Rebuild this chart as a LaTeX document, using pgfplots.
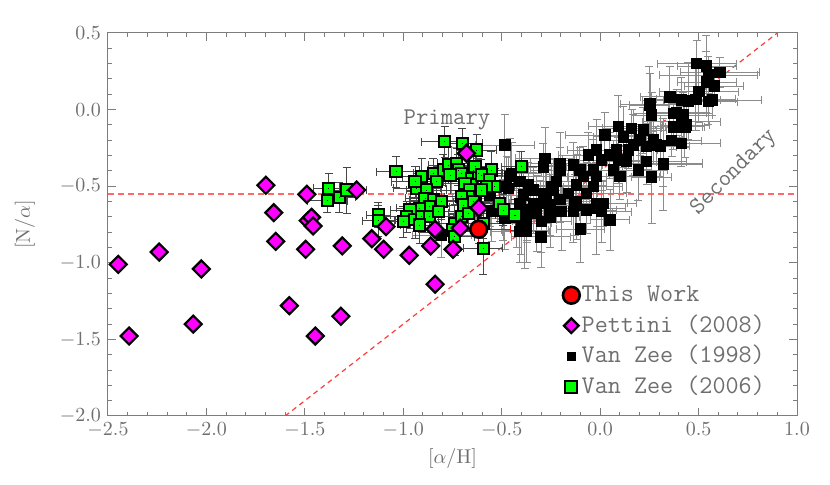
\documentclass[border=0pt]{standalone}
\usepackage{pgfplots}
\pgfplotsset{compat=1.18}
\usepackage{pgfplotstable}
\definecolor{axgray}{RGB}{125,125,125}
\definecolor{txtgray}{RGB}{110,110,110}
\definecolor{errgray}{RGB}{140,140,140}
\definecolor{hatch}{RGB}{70,70,70}
\definecolor{mag}{RGB}{255,0,255}
\definecolor{grn}{RGB}{0,255,0}
\definecolor{lnred}{RGB}{255,60,60}
\definecolor{hred}{RGB}{255,105,105}

\pgfplotstableread{
x y ex ey
0.49 0.30 0.2 0.15
0.54 0.285 0.15 0.2
0.549 0.226 0.25 0.12
0.608 0.243 0.2 0.1
0.54 0.18 0.15 0.2
0.579 0.154 0.15 0.12
0.501 0.117 0.2 0.2
0.549 0.052 0.15 0.15
0.57 0.063 0.25 0.1
0.354 0.084 0.15 0.2
0.413 0.063 0.2 0.15
0.447 0.056 0.12 0.25
0.253 0.037 0.15 0.2
0.261 -0.035 0.1 0.15
0.371 -0.024 0.2 0.12
0.422 -0.035 0.15 0.15
0.413 -0.079 0.2 0.1
0.371 -0.112 0.15 0.15
0.43 -0.112 0.1 0.2
0.413 -0.22 0.2 0.15
0.363 -0.203 0.15 0.1
0.32 -0.35 0.2 0.15
0.261 -0.44 0.1 0.3
0.092 -0.108 0.15 0.2
0.024 -0.166 0.2 0.15
0.16 -0.122 0.15 0.12
0.219 -0.133 0.12 0.15
0.117 -0.177 0.15 0.2
0.202 -0.198 0.2 0.1
0.27 -0.198 0.15 0.15
0.287 -0.231 0.12 0.12
0.236 -0.242 0.15 0.15
0.168 -0.231 0.1 0.2
0.143 -0.264 0.15 0.12
0.084 -0.264 0.2 0.15
-0.018 -0.264 0.15 0.2
0.049 -0.296 0.12 0.15
-0.06 -0.296 0.15 0.15
0.007 -0.329 0.2 0.2
0.092 -0.329 0.15 0.15
0.134 -0.34 0.15 0.2
0.236 -0.34 0.2 0.15
0.194 -0.394 0.15 0.2
0.066 -0.394 0.12 0.15
-0.035 -0.394 0.15 0.2
-0.103 -0.394 0.2 0.15
-0.137 -0.362 0.15 0.15
-0.086 -0.438 0.12 0.2
-0.018 -0.438 0.15 0.15
0.10 -0.438 0.2 0.15
-0.12 -0.492 0.15 0.2
-0.035 -0.503 0.15 0.15
-0.069 -0.546 0.2 0.2
-0.162 -0.546 0.15 0.15
-0.12 -0.60 0.15 0.25
-0.018 -0.611 0.2 0.15
0.007 -0.666 0.15 0.2
-0.069 -0.655 0.15 0.15
-0.137 -0.666 0.2 0.2
-0.196 -0.666 0.15 0.25
-0.204 -0.586 0.15 0.15
-0.238 -0.525 0.15 0.2
-0.221 -0.47 0.2 0.15
-0.272 -0.59 0.15 0.2
-0.306 -0.611 0.15 0.15
-0.289 -0.546 0.12 0.2
-0.34 -0.525 0.15 0.15
-0.255 -0.70 0.15 0.2
-0.323 -0.677 0.15 0.25
-0.374 -0.655 0.12 0.2
-0.408 -0.611 0.15 0.15
-0.475 -0.503 0.15 0.2
-0.458 -0.438 0.2 0.25
-0.408 -0.47 0.15 0.2
-0.365 -0.492 0.15 0.15
-0.28 -0.318 0.15 0.2
-0.289 -0.373 0.12 0.15
-0.204 -0.351 0.15 0.2
-0.204 -0.394 0.15 0.15
-0.484 -0.231 0.15 0.2
-0.40 -0.742 0.15 0.2
-0.383 -0.786 0.12 0.25
-0.408 -0.797 0.15 0.2
-0.484 -0.71 0.15 0.2
-0.374 -0.72 0.15 0.15
-0.45 -0.416 0.15 0.2
-0.467 -0.514 0.15 0.2
-0.39 -0.557 0.15 0.15
-0.34 -0.611 0.12 0.2
-0.247 -0.503 0.15 0.15
-0.255 -0.623 0.15 0.2
-0.298 -0.73 0.15 0.2
-0.424 -0.70 0.15 0.2
-0.374 -0.797 0.12 0.2
-0.492 -0.655 0.15 0.2
-0.806 -0.818 0.15 0.15
-0.755 -0.394 0.12 0.15
-0.628 -0.579 0.12 0.15
0.486 0.067 0.2 0.2
0.388 -0.02 0.15 0.15
0.436 -0.10 0.12 0.15
0.305 -0.238 0.15 0.2
0.249 0.03 0.1 0.25
-0.128 -0.623 0.15 0.2
0.017 -0.611 0.12 0.15
-0.02 -0.644 0.15 0.3
0.32 -0.355 0.2 0.3
-0.56 -0.56 0.15 0.2
-0.55 -0.66 0.12 0.2
-0.10 -0.78 0.12 0.22
-0.30 -0.83 0.15 0.2
0.05 -0.72 0.1 0.2
}\vzA

\pgfplotstableread{
x y ex ey
-1.378 -0.514 0.08 0.1
-1.386 -0.594 0.1 0.08
-1.325 -0.573 0.08 0.1
-1.288 -0.525 0.1 0.15
-1.127 -0.688 0.06 0.08
-1.127 -0.725 0.08 0.1
-1.037 -0.405 0.1 0.1
-0.789 -0.209 0.12 0.1
-0.70 -0.22 0.1 0.1
-0.628 -0.264 0.1 0.1
-0.907 -0.438 0.1 0.12
-0.848 -0.416 0.1 0.1
-0.797 -0.394 0.12 0.1
-0.772 -0.362 0.1 0.12
-0.729 -0.351 0.1 0.1
-0.72 -0.394 0.12 0.1
-0.763 -0.427 0.1 0.1
-0.704 -0.416 0.1 0.12
-0.831 -0.47 0.12 0.1
-0.645 -0.394 0.1 0.1
-0.653 -0.449 0.1 0.12
-0.619 -0.416 0.12 0.1
-0.687 -0.481 0.1 0.1
-0.662 -0.525 0.1 0.12
-0.67 -0.568 0.12 0.1
-0.704 -0.568 0.1 0.1
-0.695 -0.623 0.1 0.12
-0.645 -0.60 0.1 0.1
-0.932 -0.514 0.12 0.1
-0.882 -0.525 0.1 0.12
-0.89 -0.579 0.1 0.1
-0.848 -0.59 0.12 0.1
-0.806 -0.60 0.1 0.12
-0.865 -0.634 0.1 0.1
-0.916 -0.644 0.12 0.1
-0.966 -0.655 0.1 0.12
-0.983 -0.70 0.12 0.1
-0.941 -0.72 0.1 0.12
-0.907 -0.70 0.1 0.1
-0.865 -0.70 0.1 0.1
-0.823 -0.666 0.12 0.1
-0.916 -0.753 0.1 0.12
-1.0 -0.731 0.1 0.1
-0.738 -0.742 0.1 0.12
-0.747 -0.786 0.1 0.1
-0.738 -0.83 0.1 0.12
-0.704 -0.70 0.1 0.1
-0.67 -0.677 0.1 0.12
-0.94 -0.47 0.12 0.1
-0.636 -0.373 0.1 0.1
-0.552 -0.394 0.1 0.12
-0.40 -0.373 0.1 0.1
-0.603 -0.427 0.1 0.1
-0.561 -0.46 0.12 0.1
-0.535 -0.503 0.1 0.12
-0.578 -0.503 0.1 0.1
-0.603 -0.525 0.1 0.1
-0.51 -0.611 0.1 0.12
-0.492 -0.655 0.1 0.1
-0.433 -0.688 0.1 0.1
-0.594 -0.905 0.1 0.17
-0.594 -0.742 0.1 0.1
}\vzB

\pgfplotstableread{
x y
-2.448 -1.01
-2.393 -1.478
-2.24 -0.93
-2.067 -1.40
-2.026 -1.04
-1.698 -0.494
-1.658 -0.673
-1.648 -0.86
-1.579 -1.28
-1.49 -0.553
-1.496 -0.912
-1.483 -0.725
-1.466 -0.703
-1.458 -0.76
-1.447 -1.478
-1.317 -1.349
-1.31 -0.89
-1.237 -0.525
-1.16 -0.843
-1.10 -0.912
-1.088 -0.764
-0.97 -0.951
-0.861 -0.89
-0.839 -0.781
-0.838 -1.14
-0.747 -0.912
-0.711 -0.773
-0.616 -0.642
-0.679 -0.285
}\pettini

\begin{document}
\begin{tikzpicture}
\begin{axis}[
  scale only axis, width=344.5pt, height=191.5pt,
  xmin=-2.5, xmax=1.0, ymin=-2.0, ymax=0.5,
  xtick={-2.5,-2.0,-1.5,-1.0,-0.5,0.0,0.5,1.0},
  ytick={-2.0,-1.5,-1.0,-0.5,0.0,0.5},
  minor tick num=4,
  tick align=inside, major tick length=4pt, minor tick length=2pt,
  axis line style={axgray, line width=0.5pt},
  every tick/.style={axgray, line width=0.5pt},
  tick label style={txtgray, font=\fontsize{10}{12}\selectfont},
  /pgf/number format/.cd, fixed, fixed zerofill, precision=1, /pgfplots/.cd,
  label style={txtgray, font=\fontsize{10}{12}\selectfont},
  xlabel={[$\alpha$/H]}, ylabel={[N/$\alpha$]},
  xlabel style={at={(axis description cs:0.5,-0.112)}, anchor=center},
  ylabel style={at={(axis description cs:-0.1205,0.5)}, anchor=center},
  legend style={draw=none, fill=none, at={(0.651,0.362)}, anchor=north west,
    font=\fontsize{12.7}{15}\ttfamily, text=txtgray,
    nodes={inner sep=1pt, text height=9pt, text depth=2.5pt}, row sep=1.75pt},
  legend cell align=left,
  legend image code/.code={\draw[#1] plot coordinates {(0.15cm,0cm)};},
]
\addlegendimage{only marks, mark=*, mark size=4.2pt, mark options={fill=red, draw=black, line width=1.3pt}}
\addlegendentry{This Work}
\addlegendimage{only marks, mark=square*, mark size=2.6pt, mark options={rotate=45, fill=mag, draw=black, line width=1.1pt}}
\addlegendentry{Pettini (2008)}
\addlegendimage{only marks, mark=square*, mark size=1.9pt, mark options={fill=black, draw=black}}
\addlegendentry{Van Zee (1998)}
\addlegendimage{only marks, mark=square*, mark size=3pt, mark options={fill=grn, draw=black, line width=1.1pt}}
\addlegendentry{Van Zee (2006)}

\addplot[draw=hred, dash pattern=on 3pt off 2pt, line width=0.7pt, forget plot] coordinates {(-2.5,-0.55) (1.0,-0.55)};
\addplot[draw=lnred, dash pattern=on 2.5pt off 2pt, line width=0.6pt, forget plot] coordinates {(-1.6,-2.0) (0.9,0.5)};

\addplot[only marks, mark=square*, mark size=2.6pt, mark options={fill=black, draw=black}, forget plot,
  error bars/.cd, x dir=both, x explicit, y dir=both, y explicit,
  error bar style={errgray, line width=0.4pt}, error mark options={rotate=90, errgray, mark size=2pt}]
  table[x=x, y=y, x error=ex, y error=ey] {\vzA};

\addplot[only marks, mark=square*, mark size=2.8pt, mark options={fill=grn, draw=black, line width=1pt}, forget plot]
  table[x=x, y=y] {\vzB};
\addplot[only marks, mark=square, mark size=0.01pt, mark options={draw=none, fill=none}, forget plot,
  error bars/.cd, x dir=both, x explicit, y dir=both, y explicit,
  error bar style={hatch, line width=0.4pt}, error mark options={rotate=90, hatch, mark size=2pt}]
  table[x=x, y=y, x error=ex, y error=ey] {\vzB};

\addplot[only marks, mark=square*, mark size=3pt, mark options={rotate=45, fill=mag, draw=black, line width=1.1pt}, forget plot]
  table[x=x, y=y] {\pettini};

\addplot[only marks, mark=*, mark size=4.2pt, mark options={fill=red, draw=black, line width=1.3pt}, forget plot,
  error bars/.cd, x dir=both, x explicit, y dir=both, y explicit,
  error bar style={red, line width=0.6pt}, error mark options={rotate=90, red, mark size=2pt}]
  coordinates {(-0.617,-0.781) +- (0.16,0.09)};

\node[txtgray, font=\fontsize{12}{14}\ttfamily] at (axis cs:-0.778,-0.068) {Primary};
\node[txtgray, font=\fontsize{12}{14}\ttfamily, rotate=45] at (axis cs:0.68,-0.41) {Secondary};
\end{axis}
\path ([shift={(-54pt,-34.5pt)}]current axis.south west) rectangle ([shift={(16.5pt,16.5pt)}]current axis.north east);
\end{tikzpicture}
\end{document}
